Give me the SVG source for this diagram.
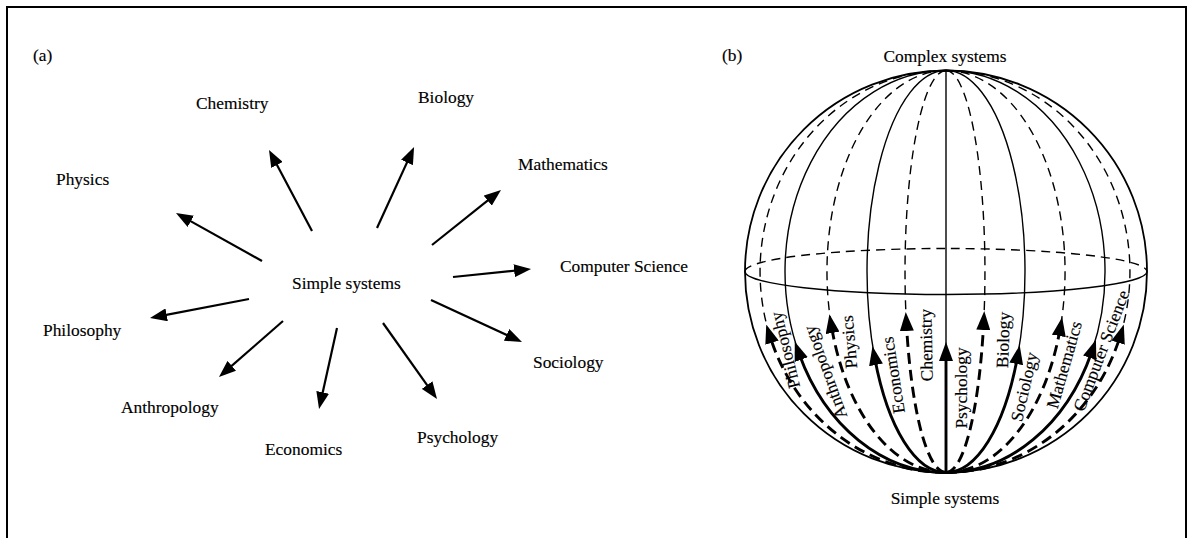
<svg xmlns="http://www.w3.org/2000/svg" width="1188" height="538" viewBox="0 0 1188 538">
  <style>
    text { font-family: "Liberation Serif", "Times New Roman", serif; font-size: 17.4px; fill: #000; stroke: #000; stroke-width: 0.15; }
    .arr { fill: none; stroke: #000; stroke-width: 2.2; marker-end: url(#headA); }
    .thin { fill: none; stroke: #000; stroke-width: 1.4; }
    .thinDash { fill: none; stroke: #000; stroke-width: 1.4; stroke-dasharray: 9 6; }
    .thick { fill: none; stroke: #000; stroke-width: 2.9; marker-end: url(#headB); }
    .thickDash { fill: none; stroke: #000; stroke-width: 2.9; stroke-dasharray: 11 6; marker-end: url(#headB); }
    .rot { text-anchor: middle; }
  </style>
  <defs>
    <marker id="headA" markerUnits="userSpaceOnUse" markerWidth="17" markerHeight="13" refX="7" refY="6.5" orient="auto">
      <path d="M0,0 L17,6.5 L0,13 z" fill="#000"/>
    </marker>
    <marker id="headB" markerUnits="userSpaceOnUse" markerWidth="19" markerHeight="14" refX="6" refY="7" orient="auto">
      <path d="M0,0 L19,7 L0,14 z" fill="#000"/>
    </marker>
  </defs>

  <rect width="1188" height="538" fill="#fff"/>
  <!-- frame, open at the bottom -->
  <path d="M7,540 V7 H1186 V540" fill="none" stroke="#000" stroke-width="2"/>

  <!-- panel (a) -->
  <text id="label-a" x="33" y="61">(a)</text>
  <g id="simple-a"><text x="292" y="289">Simple systems</text></g>
  <g id="physics-a"><text x="56" y="185">Physics</text></g>
  <g id="chemistry-a"><text x="196" y="109">Chemistry</text></g>
  <g id="biology-a"><text x="418" y="103">Biology</text></g>
  <g id="mathematics-a"><text x="518" y="170">Mathematics</text></g>
  <g id="computer-a"><text x="560" y="272">Computer Science</text></g>
  <g id="sociology-a"><text x="533" y="368">Sociology</text></g>
  <g id="psychology-a"><text x="417" y="443">Psychology</text></g>
  <g id="economics-a"><text x="265" y="455">Economics</text></g>
  <g id="anthropology-a"><text x="121" y="413">Anthropology</text></g>
  <g id="philosophy-a"><text x="43" y="336">Philosophy</text></g>

  <g id="connectors-a">
    <path class="arr" d="M262,261 L184.7,217.9"/>
    <path class="arr" d="M312,231 L273.7,158.8"/>
    <path class="arr" d="M377,228 L409.9,156.1"/>
    <path class="arr" d="M432,245 L493.2,196.2"/>
    <path class="arr" d="M453,277 L521.1,270"/>
    <path class="arr" d="M431,300 L512.9,337.8"/>
    <path class="arr" d="M383,323 L431.2,390.8"/>
    <path class="arr" d="M337,328 L321.2,399.2"/>
    <path class="arr" d="M283,321 L226.5,370.4"/>
    <path class="arr" d="M249,299 L159.8,316.1"/>
  </g>

  <!-- panel (b): the sphere -->
  <text id="label-b" x="722" y="61">(b)</text>
  <g id="complex-b"><text x="945" y="62" text-anchor="middle">Complex systems</text></g>
  <g id="simple-b"><text x="945" y="504" text-anchor="middle">Simple systems</text></g>

  <g id="sphere">
    <circle cx="946" cy="271.5" r="201" fill="none" stroke="#000" stroke-width="1.8"/>
    <!-- equator: back half dashed, front half solid -->
    <path class="thinDash" d="M745,271.5 A201,23 0 0 1 1147,271.5"/>
    <path class="thin" d="M745,271.5 A201,23 0 0 0 1147,271.5"/>
    <!-- meridians from the top pole down to the arrow heads -->
    <path class="thinDash" d="M946,70.5 A186,201 0 0 0 770.2,337"/>
    <path class="thin" d="M946,70.5 A161,201 0 0 0 799.2,354"/>
    <path class="thinDash" d="M946,70.5 A119,201 0 0 0 831.6,327"/>
    <path class="thin" d="M946,70.5 A79,201 0 0 0 874.9,359"/>
    <path class="thinDash" d="M946,70.5 A41,201 0 0 0 906.5,325"/>
    <path class="thin" d="M946,70.5 V355"/>
    <path class="thinDash" d="M946,70.5 A39,201 0 0 1 983.6,324"/>
    <path class="thin" d="M946,70.5 A79,201 0 0 1 1017.3,358"/>
    <path class="thinDash" d="M946,70.5 A119,201 0 0 1 1059.9,330"/>
    <path class="thin" d="M946,70.5 A159,201 0 0 1 1091.7,352"/>
    <path class="thinDash" d="M946,70.5 A184,201 0 0 1 1119.9,337"/>
  </g>

  <g id="connectors-b">
    <path class="thickDash" d="M946,472.5 A186,201 0 0 1 770.2,337"/>
    <path class="thick" d="M946,472.5 A161,201 0 0 1 799.2,354"/>
    <path class="thickDash" d="M946,472.5 A119,201 0 0 1 831.6,327"/>
    <path class="thick" d="M946,472.5 A79,201 0 0 1 874.9,359"/>
    <path class="thickDash" d="M946,472.5 A41,201 0 0 1 906.5,325"/>
    <path class="thick" d="M946,472.5 V355"/>
    <path class="thickDash" d="M946,472.5 A39,201 0 0 0 983.6,324"/>
    <path class="thick" d="M946,472.5 A79,201 0 0 0 1017.3,358"/>
    <path class="thickDash" d="M946,472.5 A119,201 0 0 0 1059.9,330"/>
    <path class="thick" d="M946,472.5 A159,201 0 0 0 1091.7,352"/>
    <path class="thickDash" d="M946,472.5 A184,201 0 0 0 1119.9,337"/>
  </g>

  <g id="philosophy-b"><text class="rot" transform="translate(786,350) rotate(-104)" y="5">Philosophy</text></g>
  <g id="anthropology-b"><text class="rot" transform="translate(826,372) rotate(-110)" y="5">Anthropology</text></g>
  <g id="physics-b"><text class="rot" transform="translate(850,342) rotate(-95)" y="5">Physics</text></g>
  <g id="economics-b"><text class="rot" transform="translate(894,375) rotate(-99)" y="5">Economics</text></g>
  <g id="chemistry-b"><text class="rot" transform="translate(927,345) rotate(-91)" y="5">Chemistry</text></g>
  <g id="psychology-b"><text class="rot" transform="translate(962,388) rotate(-90)" y="5">Psychology</text></g>
  <g id="biology-b"><text class="rot" transform="translate(1004,340) rotate(-88)" y="5">Biology</text></g>
  <g id="sociology-b"><text class="rot" transform="translate(1025,387) rotate(-77)" y="5">Sociology</text></g>
  <g id="mathematics-b"><text class="rot" transform="translate(1065,365) rotate(-74)" y="5">Mathematics</text></g>
  <g id="computer-b"><text class="rot" transform="translate(1102,351) rotate(-69)" y="5">Computer Science</text></g>
</svg>
